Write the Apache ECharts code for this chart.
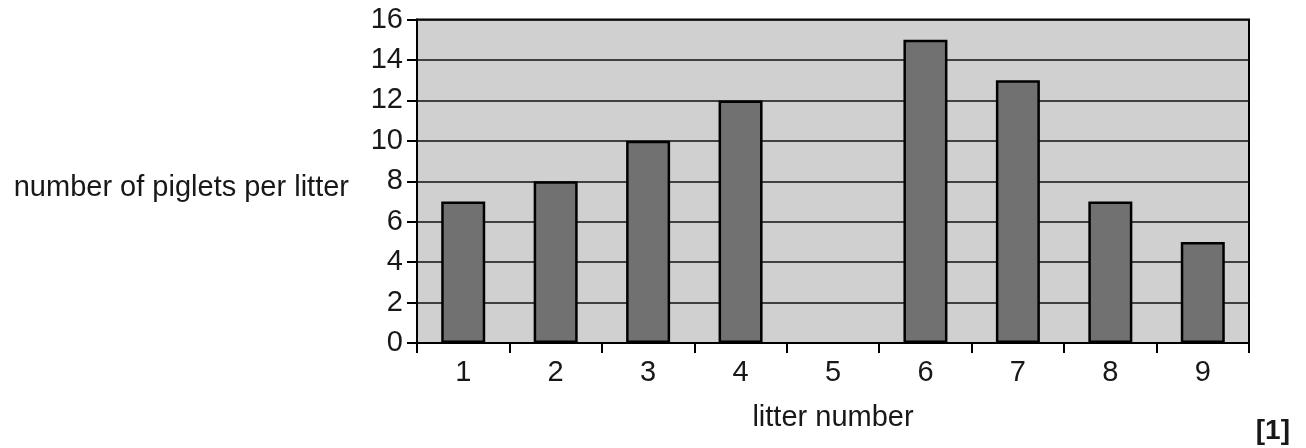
<!DOCTYPE html>
<html>
<head>
<meta charset="utf-8">
<script src="https://cdn.jsdelivr.net/npm/echarts@6/dist/echarts.min.js"></script>
<style>
html,body{margin:0;padding:0;background:#fff;}
#chart{width:1306px;height:448px;}
</style>
</head>
<body>
<div id="chart"></div>
<script>
const categories = ['1','2','3','4','5','6','7','8','9'];
const piglets = [7, 8, 10, 12, null, 15, 13, 7, 5];
const yTicks = [0, 2, 4, 6, 8, 10, 12, 14, 16];
const xTitle = 'litter number';
const yTitle = 'number of piglets per litter';
const markText = '[1]';

const textColor = '#1a1718';
const font = 'Liberation Sans, Arial, Helvetica, sans-serif';
const chart = echarts.init(document.getElementById('chart'), null, {renderer: 'canvas'});
chart.setOption({
  animation: false,
  grid: {
    left: 417, right: 57, top: 19.5, bottom: 105,
    show: true, backgroundColor: '#d0d0d0', borderColor: '#000', borderWidth: 2
  },
  xAxis: {
    type: 'category',
    data: categories,
    axisLine: {lineStyle: {color: '#000', width: 2}},
    axisTick: {show: true, length: 10, interval: 0, lineStyle: {color: '#000', width: 2}},
    axisLabel: {fontSize: 29, fontFamily: font, color: textColor, margin: 15}
  },
  yAxis: {
    type: 'value',
    min: yTicks[0], max: yTicks[yTicks.length - 1], interval: 2,
    axisLine: {show: true, lineStyle: {color: '#000', width: 2}},
    axisTick: {show: true, length: 10, lineStyle: {color: '#000', width: 2}},
    axisLabel: {fontSize: 29, fontFamily: font, color: textColor, margin: 14, padding: [3, 0, 0, 0]},
    splitLine: {show: true, lineStyle: {color: '#111', width: 1.5}}
  },
  series: [{
    type: 'bar',
    data: piglets,
    barWidth: 44,
    itemStyle: {color: '#717171', borderColor: '#000', borderWidth: 2.5}
  }],
  graphic: [
    {type: 'text', x: 833, y: 418, style: {text: xTitle, font: '29px ' + font, fill: textColor, align: 'center', verticalAlign: 'middle'}},
    {type: 'text', x: 349, y: 188, style: {text: yTitle, font: '29px ' + font, fill: textColor, align: 'right', verticalAlign: 'middle'}},
    {type: 'text', x: 1290, y: 431, style: {text: markText, font: 'bold 28px ' + font, fill: textColor, align: 'right', verticalAlign: 'middle'}}
  ]
});
</script>
</body>
</html>
